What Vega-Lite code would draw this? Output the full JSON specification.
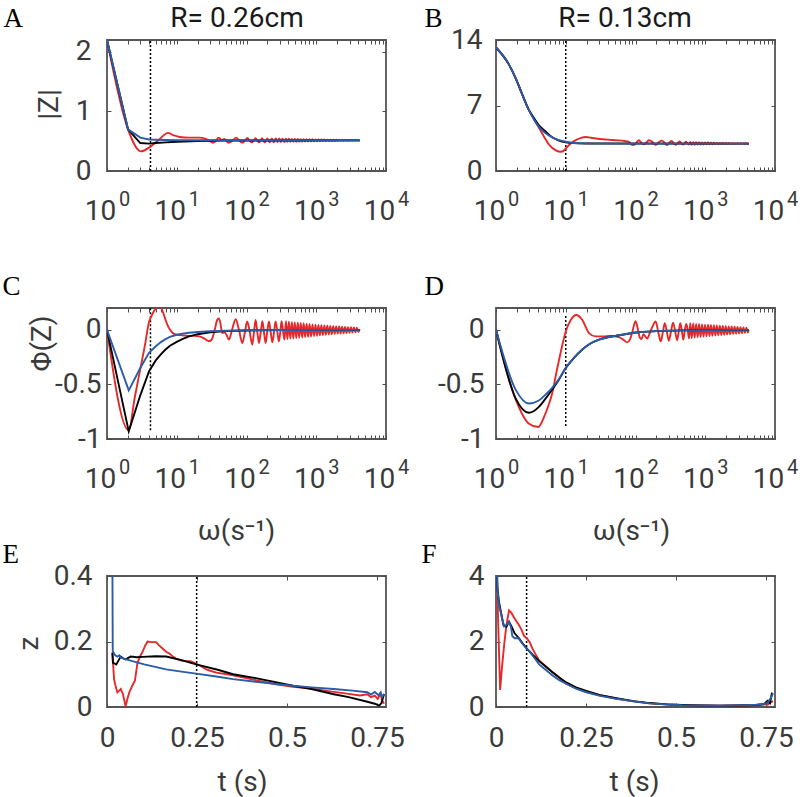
{
"$schema": "https://vega.github.io/schema/vega-lite/v6.json",
"background": "white",
"padding": {"left": 1, "top": 3, "right": 0, "bottom": 0},
"config": {
  "view": {"stroke": "#555555", "strokeWidth": 1.8},
  "axis": {"domain": false, "grid": false, "tickColor": "#4d4d4d", "tickWidth": 1, "tickSize": -4,
           "labelFont": "Roboto", "labelFontSize": 28, "labelColor": "#3a3a3a",
           "titleFont": "Roboto", "titleFontSize": 28, "titleColor": "#3a3a3a", "titleFontWeight": "normal"}
},
"datasets": {
"Aq": [{"w": 4.2, "lo": 0, "hi": 2.2}],
"Ar": [{"w":1,"v":2.2},{"w":2,"v":0.7},{"w":3.05,"v":0.33},{"w":4.2,"v":0.41},{"w":5.5,"v":0.52},{"w":7.5,"v":0.64},{"w":9,"v":0.6},{"w":11,"v":0.57},{"w":15,"v":0.56},{"w":21,"v":0.56},{"w":26,"v":0.54},{"w":30,"v":0.5},{"w":33,"v":0.475},{"w":36,"v":0.5},{"w":40,"v":0.56},{"w":44,"v":0.52},{"w":48,"v":0.54},{"w":55,"v":0.475},{"w":63,"v":0.51},{"w":71,"v":0.56},{"w":79,"v":0.51},{"w":87,"v":0.475},{"w":95,"v":0.51},{"w":103,"v":0.555},{"w":111,"v":0.51},{"w":119,"v":0.48},{"w":127,"v":0.51},{"w":135,"v":0.55},{"w":143,"v":0.51},{"w":151,"v":0.48},{"w":159,"v":0.51},{"w":167,"v":0.55},{"w":175,"v":0.51},{"w":183,"v":0.482},{"w":191,"v":0.51},{"w":199,"v":0.548},{"w":207,"v":0.51},{"w":215,"v":0.483},{"w":223,"v":0.51},{"w":231,"v":0.547},{"w":247,"v":0.484},{"w":263,"v":0.546},{"w":279,"v":0.485},{"w":295,"v":0.545},{"w":311,"v":0.486},{"w":327,"v":0.544},{"w":350,"v":0.487},{"w":368,"v":0.543},{"w":386,"v":0.49},{"w":405,"v":0.541},{"w":425,"v":0.49},{"w":447,"v":0.54},{"w":469,"v":0.492},{"w":492,"v":0.538},{"w":517,"v":0.492},{"w":543,"v":0.537},{"w":570,"v":0.493},{"w":599,"v":0.536},{"w":629,"v":0.494},{"w":660,"v":0.535},{"w":693,"v":0.495},{"w":728,"v":0.534},{"w":764,"v":0.496},{"w":802,"v":0.533},{"w":842,"v":0.497},{"w":884,"v":0.532},{"w":929,"v":0.498},{"w":975,"v":0.531},{"w":1024,"v":0.499},{"w":1075,"v":0.53},{"w":1129,"v":0.5},{"w":1185,"v":0.529},{"w":1245,"v":0.501},{"w":1307,"v":0.528},{"w":1372,"v":0.502},{"w":1441,"v":0.527},{"w":1513,"v":0.503},{"w":1588,"v":0.526},{"w":1668,"v":0.504},{"w":1751,"v":0.525},{"w":1839,"v":0.505},{"w":1931,"v":0.524},{"w":2027,"v":0.506},{"w":2129,"v":0.523},{"w":2235,"v":0.507},{"w":2347,"v":0.522},{"w":2464,"v":0.508},{"w":2587,"v":0.521},{"w":2717,"v":0.509},{"w":2853,"v":0.52},{"w":2995,"v":0.51},{"w":3145,"v":0.52},{"w":3302,"v":0.51},{"w":3467,"v":0.519},{"w":3641,"v":0.511},{"w":3823,"v":0.518},{"w":4014,"v":0.512},{"w":4200,"v":0.515}],
"Ak": [{"w":1,"v":2.2},{"w":2,"v":0.7},{"w":3,"v":0.47},{"w":4,"v":0.46},{"w":5,"v":0.47},{"w":7,"v":0.48},{"w":10,"v":0.49},{"w":20,"v":0.505},{"w":50,"v":0.512},{"w":4200,"v":0.515}],
"Ab": [{"w":1,"v":2.2},{"w":2,"v":0.7},{"w":3,"v":0.56},{"w":4,"v":0.53},{"w":5,"v":0.525},{"w":7,"v":0.52},{"w":10,"v":0.517},{"w":4200,"v":0.515}],
"Bq": [{"w": 10, "lo": 0, "hi": 14}],
"Br": [{"w":1,"v":13.2},{"w":1.5,"v":11.5},{"w":1.92,"v":9.9},{"w":2.4,"v":8.1},{"w":2.97,"v":6.5},{"w":3.3,"v":5.9},{"w":4.6,"v":4.0},{"w":5.8,"v":2.8},{"w":7.2,"v":2.2},{"w":8.5,"v":2.05},{"w":9.3,"v":2.15},{"w":10,"v":2.4},{"w":12,"v":3.0},{"w":13.9,"v":3.29},{"w":16.5,"v":3.55},{"w":19.3,"v":3.64},{"w":23,"v":3.55},{"w":26.9,"v":3.47},{"w":40,"v":3.35},{"w":51.6,"v":3.29},{"w":70,"v":3.2},{"w":80.5,"v":3.1},{"w":90,"v":2.76},{"w":100,"v":2.9},{"w":112,"v":3.29},{"w":122,"v":3.0},{"w":133,"v":2.86},{"w":145,"v":3.1},{"w":156,"v":3.29},{"w":175,"v":3.1},{"w":195,"v":2.8},{"w":217,"v":3.1},{"w":239,"v":3.25},{"w":262,"v":3.0},{"w":284,"v":2.78},{"w":308,"v":3.05},{"w":330,"v":3.2},{"w":355,"v":2.95},{"w":380,"v":2.8},{"w":405,"v":3.0},{"w":430,"v":3.15},{"w":455,"v":2.95},{"w":480,"v":2.82},{"w":505,"v":3.0},{"w":530,"v":3.12},{"w":555,"v":2.95},{"w":580,"v":2.84},{"w":610,"v":3.1},{"w":640,"v":2.8},{"w":672,"v":3.09},{"w":705,"v":2.81},{"w":740,"v":3.08},{"w":777,"v":2.82},{"w":816,"v":3.07},{"w":857,"v":2.83},{"w":900,"v":3.06},{"w":945,"v":2.84},{"w":992,"v":3.05},{"w":1042,"v":2.85},{"w":1094,"v":3.04},{"w":1149,"v":2.86},{"w":1206,"v":3.03},{"w":1266,"v":2.86},{"w":1330,"v":3.02},{"w":1396,"v":2.87},{"w":1466,"v":3.01},{"w":1539,"v":2.87},{"w":1616,"v":3.0},{"w":1697,"v":2.88},{"w":1782,"v":3.0},{"w":1871,"v":2.88},{"w":1965,"v":2.99},{"w":2063,"v":2.89},{"w":2166,"v":2.99},{"w":2274,"v":2.89},{"w":2388,"v":2.98},{"w":2507,"v":2.9},{"w":2633,"v":2.98},{"w":2764,"v":2.9},{"w":2902,"v":2.97},{"w":3048,"v":2.91},{"w":3200,"v":2.97},{"w":3360,"v":2.91},{"w":3528,"v":2.96},{"w":3704,"v":2.92},{"w":3890,"v":2.96},{"w":4084,"v":2.92},{"w":4200,"v":2.94}],
"Bk": [{"w":1,"v":13.2},{"w":1.5,"v":11.5},{"w":1.92,"v":9.9},{"w":2.4,"v":8.1},{"w":2.97,"v":6.5},{"w":3.5,"v":5.65},{"w":4.1,"v":4.9},{"w":5,"v":4.3},{"w":6.4,"v":3.6},{"w":8,"v":3.25},{"w":10,"v":3.07},{"w":13,"v":2.98},{"w":19.3,"v":2.94},{"w":4200,"v":2.93}],
"Bb": [{"w":1,"v":13.2},{"w":1.5,"v":11.5},{"w":1.92,"v":9.9},{"w":2.4,"v":8.1},{"w":2.97,"v":6.5},{"w":3.5,"v":5.5},{"w":4.1,"v":4.75},{"w":5,"v":4.1},{"w":6.4,"v":3.6},{"w":8,"v":3.3},{"w":10,"v":3.12},{"w":13,"v":3.0},{"w":19.3,"v":2.95},{"w":50,"v":2.93},{"w":4200,"v":2.93}],
"Cq": [{"w": 4.2, "lo": -0.92, "hi": 0.2}],
"Cr": [{"w":1,"v":0},{"w":2.05,"v":-0.92},{"w":2.5,"v":-0.62},{"w":3,"v":-0.36},{"w":3.5,"v":-0.14},{"w":4,"v":0.07},{"w":4.3,"v":0.12},{"w":4.7,"v":0.17},{"w":5.1,"v":0.2},{"w":5.6,"v":0.215},{"w":6.1,"v":0.19},{"w":6.6,"v":0.13},{"w":7.2,"v":0.06},{"w":8,"v":0.0},{"w":9,"v":-0.035},{"w":10,"v":-0.045},{"w":12,"v":-0.05},{"w":15,"v":-0.055},{"w":18,"v":-0.055},{"w":21,"v":-0.06},{"w":25,"v":-0.08},{"w":29,"v":-0.105},{"w":32,"v":-0.085},{"w":35,"v":0.0},{"w":38,"v":0.09},{"w":40,"v":0.105},{"w":42,"v":0.07},{"w":45,"v":-0.03},{"w":48,"v":-0.02},{"w":52,"v":-0.05},{"w":56,"v":-0.09},{"w":62,"v":0.0},{"w":70,"v":0.097},{"w":78,"v":0.0},{"w":87,"v":-0.12},{"w":95,"v":-0.02},{"w":102,"v":0.076},{"w":110,"v":0.0},{"w":121,"v":-0.136},{"w":128,"v":-0.02},{"w":135,"v":0.09},{"w":143,"v":-0.02},{"w":151,"v":-0.12},{"w":160,"v":-0.02},{"w":169,"v":0.08},{"w":178,"v":-0.02},{"w":188,"v":-0.12},{"w":199,"v":-0.01},{"w":210,"v":0.076},{"w":222,"v":-0.02},{"w":235,"v":-0.115},{"w":248,"v":-0.02},{"w":262,"v":0.076},{"w":277,"v":-0.02},{"w":292,"v":-0.106},{"w":305,"v":-0.02},{"w":318,"v":0.08},{"w":334,"v":-0.01},{"w":350,"v":-0.09},{"w":368,"v":0.08},{"w":386,"v":-0.085},{"w":405,"v":0.075},{"w":425,"v":-0.08},{"w":447,"v":0.07},{"w":469,"v":-0.08},{"w":492,"v":0.068},{"w":517,"v":-0.075},{"w":543,"v":0.065},{"w":570,"v":-0.072},{"w":599,"v":0.062},{"w":629,"v":-0.07},{"w":660,"v":0.06},{"w":693,"v":-0.066},{"w":728,"v":0.056},{"w":764,"v":-0.064},{"w":802,"v":0.055},{"w":842,"v":-0.06},{"w":884,"v":0.05},{"w":929,"v":-0.058},{"w":975,"v":0.048},{"w":1024,"v":-0.055},{"w":1075,"v":0.045},{"w":1129,"v":-0.05},{"w":1185,"v":0.042},{"w":1245,"v":-0.048},{"w":1307,"v":0.04},{"w":1372,"v":-0.045},{"w":1441,"v":0.038},{"w":1513,"v":-0.042},{"w":1588,"v":0.036},{"w":1668,"v":-0.04},{"w":1751,"v":0.034},{"w":1839,"v":-0.037},{"w":1931,"v":0.032},{"w":2027,"v":-0.035},{"w":2129,"v":0.03},{"w":2235,"v":-0.033},{"w":2347,"v":0.028},{"w":2464,"v":-0.031},{"w":2587,"v":0.026},{"w":2717,"v":-0.029},{"w":2853,"v":0.025},{"w":2995,"v":-0.027},{"w":3145,"v":0.023},{"w":3302,"v":-0.025},{"w":3467,"v":0.022},{"w":3641,"v":-0.023},{"w":3823,"v":0.02},{"w":4014,"v":-0.021},{"w":4200,"v":0.005}],
"Ck": [{"w":1,"v":0},{"w":2.05,"v":-0.93},{"w":3,"v":-0.6},{"w":4,"v":-0.38},{"w":5,"v":-0.28},{"w":6,"v":-0.22},{"w":6.9,"v":-0.18},{"w":8,"v":-0.145},{"w":10,"v":-0.11},{"w":12,"v":-0.085},{"w":15,"v":-0.06},{"w":20,"v":-0.04},{"w":30,"v":-0.022},{"w":50,"v":-0.012},{"w":100,"v":-0.006},{"w":300,"v":-0.002},{"w":4200,"v":0}],
"Cb": [{"w":1,"v":0},{"w":2.05,"v":-0.555},{"w":3,"v":-0.35},{"w":4,"v":-0.21},{"w":5,"v":-0.15},{"w":6,"v":-0.11},{"w":6.9,"v":-0.085},{"w":8,"v":-0.065},{"w":10,"v":-0.045},{"w":12,"v":-0.035},{"w":15,"v":-0.027},{"w":20,"v":-0.02},{"w":30,"v":-0.013},{"w":50,"v":-0.008},{"w":100,"v":-0.004},{"w":300,"v":-0.001},{"w":4200,"v":0}],
"Dq": [{"w": 10, "lo": -0.88, "hi": 0.13}],
"Dr": [{"w":1,"v":0},{"w":1.92,"v":-0.64},{"w":2.97,"v":-0.86},{"w":4.05,"v":-0.89},{"w":4.87,"v":-0.8},{"w":5.6,"v":-0.7},{"w":6.4,"v":-0.58},{"w":7.4,"v":-0.38},{"w":8.5,"v":-0.2},{"w":10,"v":-0.015},{"w":11.8,"v":0.09},{"w":14.1,"v":0.136},{"w":17.3,"v":0.09},{"w":21.5,"v":-0.03},{"w":26.8,"v":-0.06},{"w":35,"v":-0.06},{"w":41.7,"v":-0.055},{"w":50,"v":-0.06},{"w":58,"v":-0.066},{"w":67,"v":-0.09},{"w":76,"v":-0.115},{"w":83,"v":-0.09},{"w":90,"v":-0.02},{"w":100,"v":0.08},{"w":107,"v":0.02},{"w":115,"v":-0.07},{"w":122,"v":-0.085},{"w":130,"v":-0.04},{"w":138,"v":-0.06},{"w":147,"v":-0.08},{"w":160,"v":-0.03},{"w":175,"v":0.03},{"w":195,"v":0.076},{"w":212,"v":-0.02},{"w":230,"v":-0.106},{"w":247,"v":-0.02},{"w":263,"v":0.06},{"w":282,"v":-0.02},{"w":300,"v":-0.1},{"w":322,"v":-0.02},{"w":345,"v":0.065},{"w":370,"v":-0.01},{"w":395,"v":-0.095},{"w":418,"v":-0.01},{"w":440,"v":0.06},{"w":462,"v":-0.01},{"w":485,"v":-0.09},{"w":510,"v":0.0},{"w":535,"v":0.055},{"w":560,"v":0.0},{"w":585,"v":-0.08},{"w":610,"v":0.06},{"w":640,"v":-0.075},{"w":672,"v":0.058},{"w":705,"v":-0.07},{"w":740,"v":0.055},{"w":777,"v":-0.068},{"w":816,"v":0.053},{"w":857,"v":-0.065},{"w":900,"v":0.05},{"w":945,"v":-0.062},{"w":992,"v":0.048},{"w":1042,"v":-0.06},{"w":1094,"v":0.046},{"w":1149,"v":-0.057},{"w":1206,"v":0.044},{"w":1266,"v":-0.054},{"w":1330,"v":0.042},{"w":1396,"v":-0.052},{"w":1466,"v":0.04},{"w":1539,"v":-0.05},{"w":1616,"v":0.038},{"w":1697,"v":-0.047},{"w":1782,"v":0.036},{"w":1871,"v":-0.045},{"w":1965,"v":0.034},{"w":2063,"v":-0.042},{"w":2166,"v":0.032},{"w":2274,"v":-0.04},{"w":2388,"v":0.03},{"w":2507,"v":-0.037},{"w":2633,"v":0.028},{"w":2764,"v":-0.035},{"w":2902,"v":0.026},{"w":3048,"v":-0.032},{"w":3200,"v":0.024},{"w":3360,"v":-0.03},{"w":3528,"v":0.022},{"w":3704,"v":-0.027},{"w":3890,"v":0.02},{"w":4084,"v":-0.024},{"w":4200,"v":0.0}],
"Dk": [{"w":1,"v":0},{"w":1.92,"v":-0.63},{"w":2.97,"v":-0.76},{"w":4.05,"v":-0.71},{"w":5,"v":-0.64},{"w":6.1,"v":-0.565},{"w":8,"v":-0.455},{"w":10,"v":-0.35},{"w":13,"v":-0.26},{"w":17.3,"v":-0.18},{"w":22,"v":-0.13},{"w":30,"v":-0.09},{"w":40,"v":-0.068},{"w":52,"v":-0.055},{"w":70,"v":-0.04},{"w":100,"v":-0.025},{"w":200,"v":-0.012},{"w":500,"v":-0.005},{"w":4200,"v":0}],
"Db": [{"w":1,"v":0},{"w":1.92,"v":-0.55},{"w":2.97,"v":-0.675},{"w":4.05,"v":-0.65},{"w":5,"v":-0.6},{"w":6.1,"v":-0.545},{"w":8,"v":-0.45},{"w":10,"v":-0.35},{"w":13,"v":-0.26},{"w":17.3,"v":-0.18},{"w":22,"v":-0.13},{"w":30,"v":-0.09},{"w":40,"v":-0.068},{"w":52,"v":-0.055},{"w":70,"v":-0.04},{"w":100,"v":-0.025},{"w":200,"v":-0.012},{"w":500,"v":-0.005},{"w":4200,"v":0}],
"Eq": [{"t": 0.249, "lo": 0, "hi": 0.4}],
"Er": [{"t":0.015,"v":0.166},{"t":0.0196,"v":0.085},{"t":0.0248,"v":0.06},{"t":0.0289,"v":0.045},{"t":0.0341,"v":0.05},{"t":0.0382,"v":0.055},{"t":0.0444,"v":0.039},{"t":0.0517,"v":0.002},{"t":0.0568,"v":0.025},{"t":0.062,"v":0.045},{"t":0.0702,"v":0.065},{"t":0.0775,"v":0.08},{"t":0.0847,"v":0.135},{"t":0.0919,"v":0.155},{"t":0.0992,"v":0.17},{"t":0.1064,"v":0.188},{"t":0.1126,"v":0.2},{"t":0.124,"v":0.198},{"t":0.1364,"v":0.198},{"t":0.1446,"v":0.188},{"t":0.155,"v":0.178},{"t":0.1653,"v":0.168},{"t":0.1735,"v":0.163},{"t":0.1818,"v":0.155},{"t":0.1921,"v":0.148},{"t":0.2066,"v":0.142},{"t":0.22,"v":0.14},{"t":0.2324,"v":0.14},{"t":0.2479,"v":0.132},{"t":0.2634,"v":0.123},{"t":0.2758,"v":0.115},{"t":0.2892,"v":0.11},{"t":0.3037,"v":0.105},{"t":0.3502,"v":0.097},{"t":0.4132,"v":0.082},{"t":0.4649,"v":0.07},{"t":0.5165,"v":0.062},{"t":0.5682,"v":0.056},{"t":0.6301,"v":0.046},{"t":0.6714,"v":0.04},{"t":0.7024,"v":0.035},{"t":0.7231,"v":0.039},{"t":0.7334,"v":0.03},{"t":0.7438,"v":0.035},{"t":0.752,"v":0.025},{"t":0.7593,"v":0.04},{"t":0.7644,"v":0.02},{"t":0.7696,"v":0.01}],
"Ek": [{"t":0.015,"v":0.166},{"t":0.0165,"v":0.135},{"t":0.0207,"v":0.133},{"t":0.0258,"v":0.13},{"t":0.031,"v":0.14},{"t":0.0382,"v":0.154},{"t":0.0455,"v":0.148},{"t":0.0517,"v":0.145},{"t":0.0589,"v":0.15},{"t":0.0661,"v":0.154},{"t":0.0826,"v":0.152},{"t":0.0992,"v":0.153},{"t":0.1343,"v":0.155},{"t":0.1642,"v":0.154},{"t":0.2066,"v":0.143},{"t":0.2479,"v":0.13},{"t":0.3099,"v":0.113},{"t":0.3502,"v":0.1},{"t":0.4132,"v":0.088},{"t":0.5165,"v":0.065},{"t":0.5682,"v":0.055},{"t":0.6301,"v":0.039},{"t":0.6714,"v":0.03},{"t":0.7231,"v":0.016},{"t":0.7438,"v":0.01},{"t":0.7562,"v":0.004},{"t":0.7624,"v":0.012},{"t":0.7696,"v":0.04}],
"Eb": [{"t":0.0129,"v":1.0},{"t":0.016,"v":0.17},{"t":0.0227,"v":0.158},{"t":0.0289,"v":0.154},{"t":0.0341,"v":0.158},{"t":0.0382,"v":0.151},{"t":0.0465,"v":0.148},{"t":0.0702,"v":0.14},{"t":0.1033,"v":0.13},{"t":0.1642,"v":0.115},{"t":0.2066,"v":0.108},{"t":0.2479,"v":0.102},{"t":0.3037,"v":0.093},{"t":0.3502,"v":0.085},{"t":0.4132,"v":0.077},{"t":0.5165,"v":0.065},{"t":0.5682,"v":0.06},{"t":0.6301,"v":0.055},{"t":0.6818,"v":0.05},{"t":0.7231,"v":0.045},{"t":0.7334,"v":0.038},{"t":0.7438,"v":0.046},{"t":0.7541,"v":0.036},{"t":0.7603,"v":0.045},{"t":0.7644,"v":0.03},{"t":0.7696,"v":0.04}],
"Fq": [{"t": 0.085, "lo": 0, "hi": 4}],
"Fr": [{"t":0.0021,"v":4.5},{"t":0.0062,"v":2.5},{"t":0.0114,"v":0.52},{"t":0.0165,"v":1.2},{"t":0.0227,"v":1.9},{"t":0.0289,"v":2.5},{"t":0.0362,"v":2.95},{"t":0.0424,"v":2.88},{"t":0.0496,"v":2.74},{"t":0.0568,"v":2.62},{"t":0.064,"v":2.5},{"t":0.0713,"v":2.35},{"t":0.0775,"v":2.18},{"t":0.0868,"v":2.08},{"t":0.094,"v":1.97},{"t":0.1012,"v":1.78},{"t":0.1105,"v":1.6},{"t":0.1198,"v":1.42},{"t":0.1343,"v":1.28},{"t":0.156,"v":1.07},{"t":0.1756,"v":0.9},{"t":0.1932,"v":0.72},{"t":0.2169,"v":0.6},{"t":0.249,"v":0.46},{"t":0.2892,"v":0.36},{"t":0.3326,"v":0.26},{"t":0.3822,"v":0.17},{"t":0.4246,"v":0.11},{"t":0.4752,"v":0.08},{"t":0.5165,"v":0.06},{"t":0.5682,"v":0.045},{"t":0.6198,"v":0.04},{"t":0.6714,"v":0.045},{"t":0.7231,"v":0.06},{"t":0.7438,"v":0.09},{"t":0.7541,"v":0.07},{"t":0.7644,"v":0.15},{"t":0.7696,"v":0.18}],
"Fk": [{"t":0.0021,"v":4.5},{"t":0.0036,"v":3.65},{"t":0.0083,"v":3.2},{"t":0.013,"v":2.94},{"t":0.0207,"v":2.5},{"t":0.0289,"v":2.45},{"t":0.0362,"v":2.6},{"t":0.0434,"v":2.45},{"t":0.0517,"v":2.25},{"t":0.064,"v":2.1},{"t":0.0733,"v":1.95},{"t":0.0878,"v":1.76},{"t":0.1033,"v":1.58},{"t":0.1198,"v":1.4},{"t":0.1395,"v":1.22},{"t":0.157,"v":1.06},{"t":0.1756,"v":0.9},{"t":0.1952,"v":0.75},{"t":0.2221,"v":0.6},{"t":0.251,"v":0.49},{"t":0.2892,"v":0.36},{"t":0.3347,"v":0.27},{"t":0.3822,"v":0.18},{"t":0.4277,"v":0.12},{"t":0.4752,"v":0.08},{"t":0.5165,"v":0.06},{"t":0.5682,"v":0.045},{"t":0.6198,"v":0.04},{"t":0.6714,"v":0.045},{"t":0.7231,"v":0.06},{"t":0.7438,"v":0.08},{"t":0.7541,"v":0.19},{"t":0.7613,"v":0.12},{"t":0.7665,"v":0.44}],
"Fb": [{"t":0.0021,"v":4.5},{"t":0.0036,"v":3.65},{"t":0.0083,"v":3.1},{"t":0.013,"v":2.9},{"t":0.0176,"v":2.67},{"t":0.0227,"v":2.46},{"t":0.0289,"v":2.5},{"t":0.0362,"v":2.6},{"t":0.0413,"v":2.45},{"t":0.0455,"v":2.16},{"t":0.0517,"v":2.1},{"t":0.062,"v":2.1},{"t":0.0723,"v":1.95},{"t":0.0826,"v":1.81},{"t":0.093,"v":1.7},{"t":0.1033,"v":1.55},{"t":0.1198,"v":1.3},{"t":0.1395,"v":1.12},{"t":0.157,"v":0.96},{"t":0.1756,"v":0.82},{"t":0.1952,"v":0.71},{"t":0.2221,"v":0.56},{"t":0.251,"v":0.45},{"t":0.2892,"v":0.34},{"t":0.3347,"v":0.25},{"t":0.3822,"v":0.17},{"t":0.4277,"v":0.11},{"t":0.4752,"v":0.075},{"t":0.5165,"v":0.055},{"t":0.5682,"v":0.045},{"t":0.6198,"v":0.04},{"t":0.6714,"v":0.05},{"t":0.7231,"v":0.07},{"t":0.7438,"v":0.09},{"t":0.7541,"v":0.12},{"t":0.7644,"v":0.3},{"t":0.7696,"v":0.42}]
},
"columns": 2,
"spacing": {"row": 137, "column": 110},
"bounds": "flush",
"concat": [
{
 "width": 279, "height": 131,
 "resolve": {"axis": {"x": "independent", "y": "independent"}},
 "layer": [
  {"data": {"name": "Aq"}, "mark": {"type": "rule", "strokeDash": [2, 2], "strokeWidth": 1.5, "color": "#000"},
   "encoding": {
    "x": {"field": "w", "type": "quantitative", "scale": {"type": "log", "domain": [1, 10000]}, "axis": null},
    "y": {"field": "lo", "type": "quantitative", "scale": {"domain": [0, 2.2]}, "axis": {"orient": "left", "labels": false, "ticks": false, "tickSize": 0, "title": "A", "titleX": -104, "titleY": -14, "titleAngle": 0, "titleAlign": "left", "titleBaseline": "alphabetic", "titleFont": "Liberation Serif", "titleFontSize": 27, "titleColor": "#000"}},
    "y2": {"field": "hi"}}},
  {"data": {"name": "Ar"}, "mark": {"type": "line", "color": "#e5292b", "strokeWidth": 1.9, "clip": true, "interpolate": "monotone"},
   "encoding": {
    "x": {"field": "w", "type": "quantitative", "scale": {"type": "log", "domain": [1, 10000]}, "axis": {"orient": "bottom", "values": [1,2,3,4,5,6,7,8,9,10,20,30,40,50,60,70,80,90,100,200,300,400,500,600,700,800,900,1000,2000,3000,4000,5000,6000,7000,8000,9000,10000], "labelExpr": "indexof([1,10,100,1000,10000], datum.value) >= 0 ? '10' : ''", "labelOffset": -7, "labelPadding": 52, "labelBaseline": "alphabetic", "labelOverlap": false, "labelFlush": false, "title": null}},
    "y": {"field": "v", "type": "quantitative", "scale": {"domain": [0, 2.2]}, "axis": {"orient": "left", "values": [0, 1, 2], "labelPadding": 20, "title": "|Z|", "titleX": -58, "titleY": 64, "titleAngle": -90, "titleAlign": "center", "titleBaseline": "middle"}}}},
  {"data": {"name": "Ak"}, "mark": {"type": "line", "color": "#000", "strokeWidth": 1.9, "clip": true},
   "encoding": {
    "x": {"field": "w", "type": "quantitative", "scale": {"type": "log", "domain": [1, 10000]}, "axis": {"orient": "bottom", "values": [1, 10, 100, 1000, 10000], "ticks": false, "tickSize": 0, "labelExpr": "datum.value == 1 ? '0' : datum.value == 10 ? '1' : datum.value == 100 ? '2' : datum.value == 1000 ? '3' : '4'", "labelFontSize": 20, "labelOffset": 17, "labelPadding": 34, "labelBaseline": "alphabetic", "labelOverlap": false, "labelFlush": false, "title": null}},
    "y": {"field": "v", "type": "quantitative", "scale": {"domain": [0, 2.2]}, "axis": null}}},
  {"data": {"name": "Ab"}, "mark": {"type": "line", "color": "#2b5ca8", "strokeWidth": 1.9, "clip": true},
   "encoding": {
    "x": {"field": "w", "type": "quantitative", "scale": {"type": "log", "domain": [1, 10000]}, "axis": {"orient": "top", "values": [1,2,3,4,5,6,7,8,9,10,20,30,40,50,60,70,80,90,100,200,300,400,500,600,700,800,900,1000,2000,3000,4000,5000,6000,7000,8000,9000,10000], "labels": false, "title": "R= 0.26cm", "titleX": 129.5, "titleY": -14, "titleAngle": 0, "titleAlign": "center", "titleBaseline": "alphabetic", "titleColor": "#1a1a1a"}},
    "y": {"field": "v", "type": "quantitative", "scale": {"domain": [0, 2.2]}, "axis": {"orient": "right", "values": [0, 1, 2], "labels": false, "title": null}}}}
 ]
},
{
 "width": 279, "height": 131,
 "resolve": {"axis": {"x": "independent", "y": "independent"}},
 "layer": [
  {"data": {"name": "Bq"}, "mark": {"type": "rule", "strokeDash": [2, 2], "strokeWidth": 1.5, "color": "#000"},
   "encoding": {
    "x": {"field": "w", "type": "quantitative", "scale": {"type": "log", "domain": [1, 10000]}, "axis": null},
    "y": {"field": "lo", "type": "quantitative", "scale": {"domain": [0, 14]}, "axis": {"orient": "left", "labels": false, "ticks": false, "tickSize": 0, "title": "B", "titleX": -72, "titleY": -14, "titleAngle": 0, "titleAlign": "left", "titleBaseline": "alphabetic", "titleFont": "Liberation Serif", "titleFontSize": 27, "titleColor": "#000"}},
    "y2": {"field": "hi"}}},
  {"data": {"name": "Br"}, "mark": {"type": "line", "color": "#e5292b", "strokeWidth": 1.9, "clip": true, "interpolate": "monotone"},
   "encoding": {
    "x": {"field": "w", "type": "quantitative", "scale": {"type": "log", "domain": [1, 10000]}, "axis": {"orient": "bottom", "values": [1,2,3,4,5,6,7,8,9,10,20,30,40,50,60,70,80,90,100,200,300,400,500,600,700,800,900,1000,2000,3000,4000,5000,6000,7000,8000,9000,10000], "labelExpr": "indexof([1,10,100,1000,10000], datum.value) >= 0 ? '10' : ''", "labelOffset": -7, "labelPadding": 52, "labelBaseline": "alphabetic", "labelOverlap": false, "labelFlush": false, "title": null}},
    "y": {"field": "v", "type": "quantitative", "scale": {"domain": [0, 14]}, "axis": {"orient": "left", "values": [0, 7, 14], "labelPadding": 18, "title": null}}}},
  {"data": {"name": "Bk"}, "mark": {"type": "line", "color": "#000", "strokeWidth": 1.9, "clip": true, "interpolate": "monotone"},
   "encoding": {
    "x": {"field": "w", "type": "quantitative", "scale": {"type": "log", "domain": [1, 10000]}, "axis": {"orient": "bottom", "values": [1, 10, 100, 1000, 10000], "ticks": false, "tickSize": 0, "labelExpr": "datum.value == 1 ? '0' : datum.value == 10 ? '1' : datum.value == 100 ? '2' : datum.value == 1000 ? '3' : '4'", "labelFontSize": 20, "labelOffset": 17, "labelPadding": 34, "labelBaseline": "alphabetic", "labelOverlap": false, "labelFlush": false, "title": null}},
    "y": {"field": "v", "type": "quantitative", "scale": {"domain": [0, 14]}, "axis": null}}},
  {"data": {"name": "Bb"}, "mark": {"type": "line", "color": "#2b5ca8", "strokeWidth": 1.9, "clip": true, "interpolate": "monotone"},
   "encoding": {
    "x": {"field": "w", "type": "quantitative", "scale": {"type": "log", "domain": [1, 10000]}, "axis": {"orient": "top", "values": [1,2,3,4,5,6,7,8,9,10,20,30,40,50,60,70,80,90,100,200,300,400,500,600,700,800,900,1000,2000,3000,4000,5000,6000,7000,8000,9000,10000], "labels": false, "title": "R= 0.13cm", "titleX": 128.5, "titleY": -14, "titleAngle": 0, "titleAlign": "center", "titleBaseline": "alphabetic", "titleColor": "#1a1a1a"}},
    "y": {"field": "v", "type": "quantitative", "scale": {"domain": [0, 14]}, "axis": {"orient": "right", "values": [0, 7, 14], "labels": false, "title": null}}}}
 ]
},
{
 "width": 279, "height": 131,
 "resolve": {"axis": {"x": "independent", "y": "independent"}},
 "layer": [
  {"data": {"name": "Cq"}, "mark": {"type": "rule", "strokeDash": [2, 2], "strokeWidth": 1.5, "color": "#000"},
   "encoding": {
    "x": {"field": "w", "type": "quantitative", "scale": {"type": "log", "domain": [1, 10000]}, "axis": null},
    "y": {"field": "lo", "type": "quantitative", "scale": {"domain": [-1, 0.2]}, "axis": {"orient": "left", "labels": false, "ticks": false, "tickSize": 0, "title": "C", "titleX": -105, "titleY": -14, "titleAngle": 0, "titleAlign": "left", "titleBaseline": "alphabetic", "titleFont": "Liberation Serif", "titleFontSize": 27, "titleColor": "#000"}},
    "y2": {"field": "hi"}}},
  {"data": {"name": "Cr"}, "mark": {"type": "line", "color": "#e5292b", "strokeWidth": 1.9, "clip": true, "interpolate": "monotone"},
   "encoding": {
    "x": {"field": "w", "type": "quantitative", "scale": {"type": "log", "domain": [1, 10000]}, "axis": {"orient": "bottom", "values": [1,2,3,4,5,6,7,8,9,10,20,30,40,50,60,70,80,90,100,200,300,400,500,600,700,800,900,1000,2000,3000,4000,5000,6000,7000,8000,9000,10000], "labelExpr": "indexof([1,10,100,1000,10000], datum.value) >= 0 ? '10' : ''", "labelOffset": -7, "labelPadding": 52, "labelBaseline": "alphabetic", "labelOverlap": false, "labelFlush": false, "title": "ω(s⁻¹)", "titleX": 129, "titleY": 100, "titleAlign": "center", "titleBaseline": "alphabetic"}},
    "y": {"field": "v", "type": "quantitative", "scale": {"domain": [-1, 0.2]}, "axis": {"orient": "left", "values": [-1, -0.5, 0], "labelExpr": "datum.value == -1 ? '-1' : datum.value == -0.5 ? '-0.5' : '0'", "labelPadding": 10, "title": "Φ(Z)", "titleX": -65, "titleY": 35, "titleAngle": -90, "titleAlign": "center", "titleBaseline": "middle"}}}},
  {"data": {"name": "Ck"}, "mark": {"type": "line", "color": "#000", "strokeWidth": 1.9, "clip": true},
   "encoding": {
    "x": {"field": "w", "type": "quantitative", "scale": {"type": "log", "domain": [1, 10000]}, "axis": {"orient": "bottom", "values": [1, 10, 100, 1000, 10000], "ticks": false, "tickSize": 0, "labelExpr": "datum.value == 1 ? '0' : datum.value == 10 ? '1' : datum.value == 100 ? '2' : datum.value == 1000 ? '3' : '4'", "labelFontSize": 20, "labelOffset": 17, "labelPadding": 34, "labelBaseline": "alphabetic", "labelOverlap": false, "labelFlush": false, "title": null}},
    "y": {"field": "v", "type": "quantitative", "scale": {"domain": [-1, 0.2]}, "axis": null}}},
  {"data": {"name": "Cb"}, "mark": {"type": "line", "color": "#2b5ca8", "strokeWidth": 1.9, "clip": true},
   "encoding": {
    "x": {"field": "w", "type": "quantitative", "scale": {"type": "log", "domain": [1, 10000]}, "axis": {"orient": "top", "values": [1,2,3,4,5,6,7,8,9,10,20,30,40,50,60,70,80,90,100,200,300,400,500,600,700,800,900,1000,2000,3000,4000,5000,6000,7000,8000,9000,10000], "labels": false, "title": null}},
    "y": {"field": "v", "type": "quantitative", "scale": {"domain": [-1, 0.2]}, "axis": {"orient": "right", "values": [-1, -0.5, 0], "labels": false, "title": null}}}}
 ]
},
{
 "width": 279, "height": 131,
 "resolve": {"axis": {"x": "independent", "y": "independent"}},
 "layer": [
  {"data": {"name": "Dq"}, "mark": {"type": "rule", "strokeDash": [2, 2], "strokeWidth": 1.5, "color": "#000"},
   "encoding": {
    "x": {"field": "w", "type": "quantitative", "scale": {"type": "log", "domain": [1, 10000]}, "axis": null},
    "y": {"field": "lo", "type": "quantitative", "scale": {"domain": [-1, 0.2]}, "axis": {"orient": "left", "labels": false, "ticks": false, "tickSize": 0, "title": "D", "titleX": -72, "titleY": -14, "titleAngle": 0, "titleAlign": "left", "titleBaseline": "alphabetic", "titleFont": "Liberation Serif", "titleFontSize": 27, "titleColor": "#000"}},
    "y2": {"field": "hi"}}},
  {"data": {"name": "Dr"}, "mark": {"type": "line", "color": "#e5292b", "strokeWidth": 1.9, "clip": true, "interpolate": "monotone"},
   "encoding": {
    "x": {"field": "w", "type": "quantitative", "scale": {"type": "log", "domain": [1, 10000]}, "axis": {"orient": "bottom", "values": [1,2,3,4,5,6,7,8,9,10,20,30,40,50,60,70,80,90,100,200,300,400,500,600,700,800,900,1000,2000,3000,4000,5000,6000,7000,8000,9000,10000], "labelExpr": "indexof([1,10,100,1000,10000], datum.value) >= 0 ? '10' : ''", "labelOffset": -7, "labelPadding": 52, "labelBaseline": "alphabetic", "labelOverlap": false, "labelFlush": false, "title": "ω(s⁻¹)", "titleX": 135, "titleY": 100, "titleAlign": "center", "titleBaseline": "alphabetic"}},
    "y": {"field": "v", "type": "quantitative", "scale": {"domain": [-1, 0.2]}, "axis": {"orient": "left", "values": [-1, -0.5, 0], "labelExpr": "datum.value == -1 ? '-1' : datum.value == -0.5 ? '-0.5' : '0'", "labelPadding": 16, "title": null}}}},
  {"data": {"name": "Dk"}, "mark": {"type": "line", "color": "#000", "strokeWidth": 1.9, "clip": true, "interpolate": "monotone"},
   "encoding": {
    "x": {"field": "w", "type": "quantitative", "scale": {"type": "log", "domain": [1, 10000]}, "axis": {"orient": "bottom", "values": [1, 10, 100, 1000, 10000], "ticks": false, "tickSize": 0, "labelExpr": "datum.value == 1 ? '0' : datum.value == 10 ? '1' : datum.value == 100 ? '2' : datum.value == 1000 ? '3' : '4'", "labelFontSize": 20, "labelOffset": 17, "labelPadding": 34, "labelBaseline": "alphabetic", "labelOverlap": false, "labelFlush": false, "title": null}},
    "y": {"field": "v", "type": "quantitative", "scale": {"domain": [-1, 0.2]}, "axis": null}}},
  {"data": {"name": "Db"}, "mark": {"type": "line", "color": "#2b5ca8", "strokeWidth": 1.9, "clip": true, "interpolate": "monotone"},
   "encoding": {
    "x": {"field": "w", "type": "quantitative", "scale": {"type": "log", "domain": [1, 10000]}, "axis": {"orient": "top", "values": [1,2,3,4,5,6,7,8,9,10,20,30,40,50,60,70,80,90,100,200,300,400,500,600,700,800,900,1000,2000,3000,4000,5000,6000,7000,8000,9000,10000], "labels": false, "title": null}},
    "y": {"field": "v", "type": "quantitative", "scale": {"domain": [-1, 0.2]}, "axis": {"orient": "right", "values": [-1, -0.5, 0], "labels": false, "title": null}}}}
 ]
},
{
 "width": 279, "height": 131,
 "resolve": {"axis": {"x": "independent", "y": "independent"}},
 "layer": [
  {"data": {"name": "Eq"}, "mark": {"type": "rule", "strokeDash": [2, 2], "strokeWidth": 1.5, "color": "#000"},
   "encoding": {
    "x": {"field": "t", "type": "quantitative", "scale": {"domain": [0, 0.775]}, "axis": null},
    "y": {"field": "lo", "type": "quantitative", "scale": {"domain": [0, 0.4]}, "axis": {"orient": "left", "labels": false, "ticks": false, "tickSize": 0, "title": "E", "titleX": -105, "titleY": -14, "titleAngle": 0, "titleAlign": "left", "titleBaseline": "alphabetic", "titleFont": "Liberation Serif", "titleFontSize": 27, "titleColor": "#000"}},
    "y2": {"field": "hi"}}},
  {"data": {"name": "Er"}, "mark": {"type": "line", "color": "#e5292b", "strokeWidth": 1.9, "clip": true},
   "encoding": {
    "x": {"field": "t", "type": "quantitative", "scale": {"domain": [0, 0.775]}, "axis": {"orient": "bottom", "values": [0, 0.25, 0.5, 0.75], "labelExpr": "datum.value == 0 ? '0' : datum.value == 0.25 ? '0.25' : datum.value == 0.5 ? '0.5' : '0.75'", "labelPadding": 43, "labelBaseline": "alphabetic", "labelOverlap": false, "labelFlush": false, "title": "t (s)", "titleX": 135, "titleY": 83, "titleAlign": "center", "titleBaseline": "alphabetic"}},
    "y": {"field": "v", "type": "quantitative", "scale": {"domain": [0, 0.4]}, "axis": {"orient": "left", "values": [0, 0.2, 0.4], "labelExpr": "datum.value == 0 ? '0' : datum.value == 0.2 ? '0.2' : '0.4'", "labelPadding": 19, "title": "z", "titleX": -78, "titleY": 67, "titleAngle": -90, "titleAlign": "center", "titleBaseline": "middle"}}}},
  {"data": {"name": "Ek"}, "mark": {"type": "line", "color": "#000", "strokeWidth": 1.9, "clip": true},
   "encoding": {
    "x": {"field": "t", "type": "quantitative", "scale": {"domain": [0, 0.775]}, "axis": null},
    "y": {"field": "v", "type": "quantitative", "scale": {"domain": [0, 0.4]}, "axis": null}}},
  {"data": {"name": "Eb"}, "mark": {"type": "line", "color": "#2b5ca8", "strokeWidth": 1.9, "clip": true},
   "encoding": {
    "x": {"field": "t", "type": "quantitative", "scale": {"domain": [0, 0.775]}, "axis": {"orient": "top", "values": [0, 0.25, 0.5, 0.75], "labels": false, "title": null}},
    "y": {"field": "v", "type": "quantitative", "scale": {"domain": [0, 0.4]}, "axis": {"orient": "right", "values": [0, 0.2, 0.4], "labels": false, "title": null}}}}
 ]
},
{
 "width": 279, "height": 131,
 "resolve": {"axis": {"x": "independent", "y": "independent"}},
 "layer": [
  {"data": {"name": "Fq"}, "mark": {"type": "rule", "strokeDash": [2, 2], "strokeWidth": 1.5, "color": "#000"},
   "encoding": {
    "x": {"field": "t", "type": "quantitative", "scale": {"domain": [0, 0.775]}, "axis": null},
    "y": {"field": "lo", "type": "quantitative", "scale": {"domain": [0, 4]}, "axis": {"orient": "left", "labels": false, "ticks": false, "tickSize": 0, "title": "F", "titleX": -75, "titleY": -14, "titleAngle": 0, "titleAlign": "left", "titleBaseline": "alphabetic", "titleFont": "Liberation Serif", "titleFontSize": 27, "titleColor": "#000"}},
    "y2": {"field": "hi"}}},
  {"data": {"name": "Fr"}, "mark": {"type": "line", "color": "#e5292b", "strokeWidth": 1.9, "clip": true},
   "encoding": {
    "x": {"field": "t", "type": "quantitative", "scale": {"domain": [0, 0.775]}, "axis": {"orient": "bottom", "values": [0, 0.25, 0.5, 0.75], "labelExpr": "datum.value == 0 ? '0' : datum.value == 0.25 ? '0.25' : datum.value == 0.5 ? '0.5' : '0.75'", "labelPadding": 43, "labelBaseline": "alphabetic", "labelOverlap": false, "labelFlush": false, "title": "t (s)", "titleX": 138, "titleY": 83, "titleAlign": "center", "titleBaseline": "alphabetic"}},
    "y": {"field": "v", "type": "quantitative", "scale": {"domain": [0, 4]}, "axis": {"orient": "left", "values": [0, 2, 4], "labelPadding": 16, "title": null}}}},
  {"data": {"name": "Fk"}, "mark": {"type": "line", "color": "#000", "strokeWidth": 1.9, "clip": true},
   "encoding": {
    "x": {"field": "t", "type": "quantitative", "scale": {"domain": [0, 0.775]}, "axis": null},
    "y": {"field": "v", "type": "quantitative", "scale": {"domain": [0, 4]}, "axis": null}}},
  {"data": {"name": "Fb"}, "mark": {"type": "line", "color": "#2b5ca8", "strokeWidth": 1.9, "clip": true},
   "encoding": {
    "x": {"field": "t", "type": "quantitative", "scale": {"domain": [0, 0.775]}, "axis": {"orient": "top", "values": [0, 0.25, 0.5, 0.75], "labels": false, "title": null}},
    "y": {"field": "v", "type": "quantitative", "scale": {"domain": [0, 4]}, "axis": {"orient": "right", "values": [0, 2, 4], "labels": false, "title": null}}}}
 ]
}
]
}
